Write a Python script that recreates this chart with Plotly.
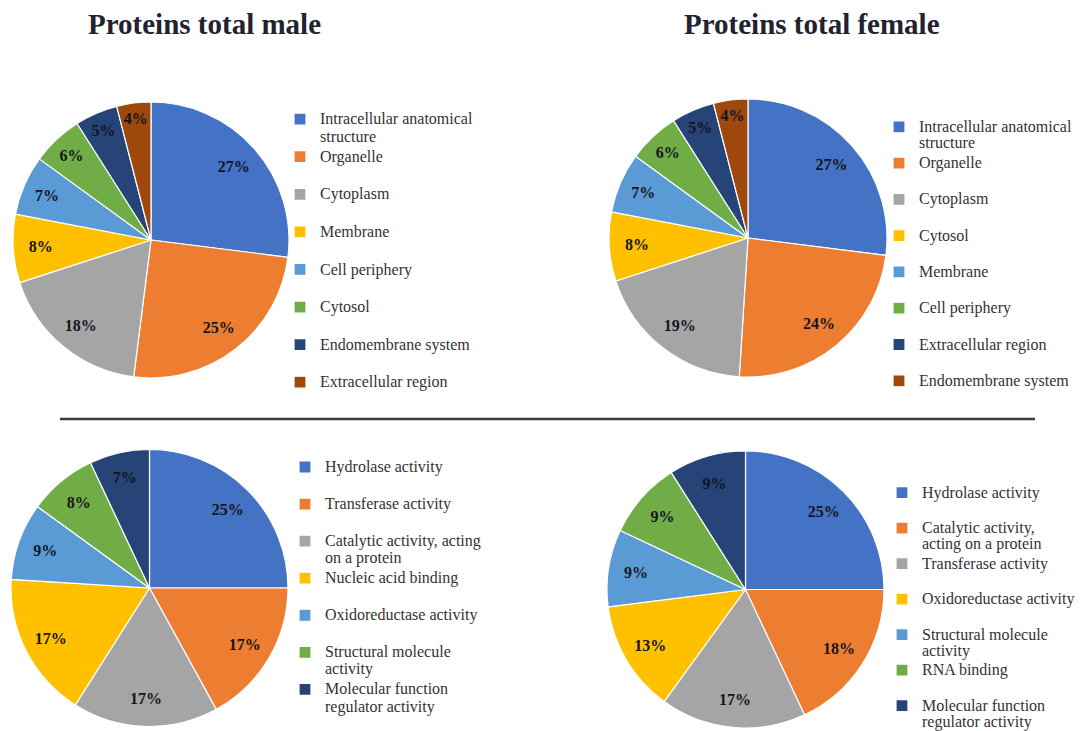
import plotly.graph_objects as go

W, H = 1085, 731

# Cellular component (top row) and molecular function (bottom row) shares, %
cc_male_labels = ["Intracellular anatomical<br>structure", "Organelle", "Cytoplasm", "Membrane",
                  "Cell periphery", "Cytosol", "Endomembrane system", "Extracellular region"]
cc_male_values = [27, 25, 18, 8, 7, 6, 5, 4]

cc_female_labels = ["Intracellular anatomical<br>structure", "Organelle", "Cytoplasm", "Cytosol",
                    "Membrane", "Cell periphery", "Extracellular region", "Endomembrane system"]
cc_female_values = [27, 24, 19, 8, 7, 6, 5, 4]

mf_male_labels = ["Hydrolase activity", "Transferase activity", "Catalytic activity, acting<br>on a protein",
                  "Nucleic acid binding", "Oxidoreductase activity", "Structural molecule<br>activity",
                  "Molecular function<br>regulator activity"]
mf_male_values = [25, 17, 17, 17, 9, 8, 7]

mf_female_labels = ["Hydrolase activity", "Catalytic activity,<br>acting on a protein", "Transferase activity",
                    "Oxidoreductase activity", "Structural molecule<br>activity", "RNA binding",
                    "Molecular function<br>regulator activity"]
mf_female_values = [25, 18, 17, 13, 9, 9, 9]

titles = ["Proteins total male", "Proteins total female"]

palette = ["#4472C4", "#ED7D31", "#A5A5A5", "#FFC000", "#5B9BD5", "#70AD47", "#264478", "#9E480E"]

SERIF = "Liberation Serif"
LEG_PAD = 4  # transparent legend border, keeps enlarged glyphs inside the legend box


def px_x(v):
    return v / W


def px_y(v):
    return 1 - v / H


def legend_entry(lbl, tag=""):
    # every entry takes two lines so rows are evenly spaced; glyphs are drawn
    # a bit larger than the legend's own font, which sets the row pitch
    lines = lbl.split("<br>")
    if len(lines) == 1:
        lines.append(" ")
    return "<br>".join(f"<span style='font-size:16px'>{ln}</span>" for ln in lines) + tag


panels = [
    # labels, values, pie box (x0, x1, y0, y1 px), legend name, legend (text x, top y), row font, tag
    (cc_male_labels, cc_male_values, (13, 289, 102, 378), "legend", (320, 104), 13.3, ""),
    (cc_female_labels, cc_female_values, (609, 887, 99, 377), "legend2", (919, 112), 12.8, "\u200b"),
    (mf_male_labels, mf_male_values, (11, 288, 449, 727), "legend3", (325, 452), 13.1, ""),
    (mf_female_labels, mf_female_values, (607, 884, 451, 728), "legend4", (922, 478), 12.5, "\u200b"),
]

fig = go.Figure()
layout_legends = {}

for labels, values, (x0, x1, y0, y1), lg, (lx, ly), lfs, tag in panels:
    dom = dict(x=[px_x(x0), px_x(x1)], y=[px_y(y1), px_y(y0)])
    lab = [legend_entry(l, tag) for l in labels]
    cols = palette[:len(values)]
    fig.add_trace(go.Pie(
        labels=lab, values=values, domain=dom, sort=False, direction="clockwise", rotation=0,
        marker=dict(colors=cols, line=dict(color="white", width=1.2)),
        textinfo="none", hoverinfo="percent", legend=lg,
    ))
    # transparent ring carrying the percentage labels near the rim
    fig.add_trace(go.Pie(
        labels=lab, values=values, domain=dom, sort=False, direction="clockwise", rotation=0,
        hole=0.6, marker=dict(colors=["rgba(0,0,0,0)"] * len(values), line=dict(width=0)),
        texttemplate="<b>%{value}%</b>", textposition="inside", insidetextorientation="horizontal",
        textfont=dict(family=SERIF, size=16, color="#15151f"),
        showlegend=False, hoverinfo="skip", legend=lg,
    ))
    layout_legends[lg] = dict(
        x=px_x(lx - 40 - LEG_PAD), y=px_y(ly - LEG_PAD), xanchor="left", yanchor="top",
        bgcolor="rgba(0,0,0,0)", borderwidth=LEG_PAD, bordercolor="rgba(0,0,0,0)",
        valign="top", traceorder="normal",
        font=dict(family=SERIF, size=lfs, color="#333333"),
    )

annotations = [
    dict(text=f"<b>{titles[0]}</b>", x=px_x(205), y=px_y(24), xref="paper", yref="paper",
         xanchor="center", yanchor="middle", showarrow=False,
         font=dict(family=SERIF, size=29, color="#222230")),
    dict(text=f"<b>{titles[1]}</b>", x=px_x(812), y=px_y(24), xref="paper", yref="paper",
         xanchor="center", yanchor="middle", showarrow=False,
         font=dict(family=SERIF, size=29, color="#222230")),
]

fig.update_layout(
    width=W, height=H, margin=dict(l=0, r=0, t=0, b=0, autoexpand=False),
    paper_bgcolor="white", plot_bgcolor="white",
    annotations=annotations,
    shapes=[dict(type="line", xref="paper", yref="paper", x0=px_x(60), x1=px_x(1035),
                 y0=px_y(419), y1=px_y(419), line=dict(color="#3a3a3a", width=2.5))],
    **layout_legends,
)

fig.write_html("out.html")
